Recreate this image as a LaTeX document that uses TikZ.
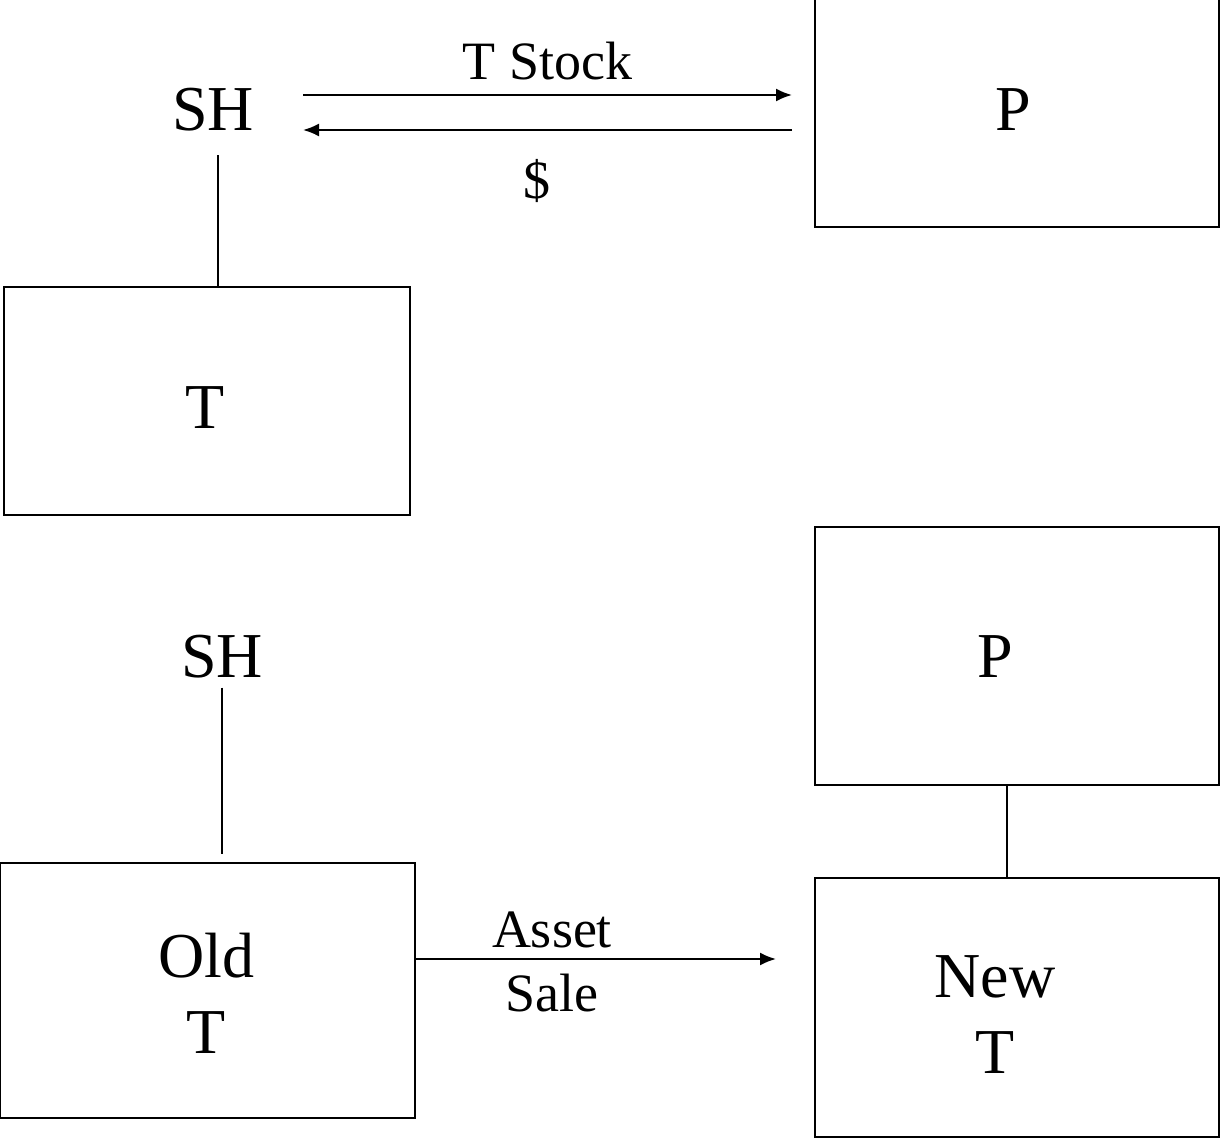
\documentclass[tikz,border=0pt]{standalone}
\usepackage{fontspec}
\setmainfont{Liberation Serif}
\usetikzlibrary{arrows.meta,positioning}
\tikzset{>={Latex[length=8pt,width=6.5pt]}}
\tikzstyle{firm}=[rectangle,draw,line width=1pt,inner sep=0pt]
\tikzstyle{big}=[font=\fontsize{32}{38}\selectfont,align=center,inner sep=0pt]
\tikzstyle{small}=[font=\fontsize{27}{31}\selectfont,align=center,inner sep=2pt]

\begin{document}
\begin{tikzpicture}[x=0.5pt,y=-0.5pt,line width=1pt]
  \useasboundingbox (0,0) rectangle (1220,1138);

  % before: P buys the T stock from SH
  \node[big] (sh1) at (213,110) {SH};
  \node[firm,minimum width=202pt,minimum height=114.5pt] (ptop) at (1017,113) {};
  \node[big] at (1013,110) {P};
  \node[firm,minimum width=203pt,minimum height=114pt] (tgt) at (207,401) {};
  \node[big] at (205,408) {T};

  \draw[->] ([xshift=45pt,yshift=7.5pt]sh1.center) -- ([xshift=-11pt,yshift=9pt]ptop.west)
    node[small,midway,above=5pt] (stk) {T Stock};
  \draw[->] ([xshift=-11pt,yshift=-8.5pt]ptop.west) -- ([xshift=45pt,yshift=-10pt]sh1.center)
    node[small,midway,below=12pt,xshift=-5.5pt] (cash) {\$};

  \draw ([xshift=2.5pt,yshift=-11.5pt]sh1.south) -- ([xshift=2.5pt]sh1.south |- tgt.north);

  % after: asset sale to New T under P
  \node[big] (sh2) at (222,657) {SH};
  \node[firm,minimum width=207.5pt,minimum height=127.5pt] (oldt) at (207.5,990.5) {};
  \node[big] at (206,993) {Old\\T};
  \node[firm,minimum width=202pt,minimum height=129pt] (pbot) at (1017,656) {};
  \node[big] at (995,657) {P};
  \node[firm,minimum width=202pt,minimum height=129.5pt] (newt) at (1017,1007.5) {};
  \node[big] at (995,1015) {New\\T};

  \draw ([yshift=-4pt]sh2.south) -- ([yshift=4pt]oldt.north -| sh2.south);
  \draw ([xshift=-5pt]pbot.south) -- ([xshift=-5pt]newt.north);

  \draw[->] ([yshift=15.75pt]oldt.east) -- ([xshift=-19pt,yshift=24.25pt]newt.west)
    node[small,midway,above=3pt,xshift=-22pt] (asset) {Asset}
    node[small,midway,below=5pt,xshift=-22pt] (sale) {Sale};

\end{tikzpicture}
\end{document}
